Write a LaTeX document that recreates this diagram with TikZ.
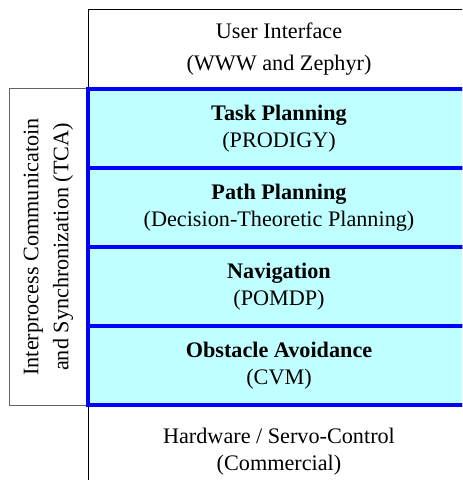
\documentclass[tikz,border=0pt]{standalone}
\usepackage{fontspec}
\setmainfont{Liberation Serif}
\usetikzlibrary{positioning, calc}
\definecolor{layerfill}{RGB}{191,255,255}
\definecolor{tcagray}{RGB}{100,100,100}

\begin{document}
\begin{tikzpicture}[
    x=0.5pt, y=-0.5pt,
    txt/.style={font=\fontsize{11.1}{13.5}\selectfont, align=center},
    plainbox/.style={txt, rectangle, minimum width=191pt, minimum height=39.5pt, inner sep=0pt, outer sep=0pt},
    layerbox/.style={plainbox, draw=blue, line width=2pt, fill=layerfill},
    tcabox/.style={txt, rectangle, draw=tcagray, line width=0.5pt, minimum width=158.5pt, minimum height=39.5pt, inner sep=0pt, outer sep=0pt}
  ]
  \useasboundingbox (0,0) rectangle (462,480);
  \clip (0,0) rectangle (462,480);

  % top layer, open box
  \node[plainbox] (ui) at (279,49.5) {User Interface\\[2.5pt](WWW and Zephyr)};

  % planning stack
  \node[layerbox, below=0pt of ui] (task) {\textbf{Task Planning}\\(PRODIGY)};
  \node[layerbox, below=0pt of task] (path) {\textbf{Path Planning}\\(Decision-Theoretic Planning)};
  \node[layerbox, below=0pt of path] (nav) {\textbf{Navigation}\\(POMDP)};
  \node[layerbox, below=0pt of nav] (obst) {\textbf{Obstacle Avoidance}\\(CVM)};

  % bottom layer
  \node[plainbox, minimum height=47pt, below=0pt of obst] (hw) {Hardware / Servo-Control\\(Commercial)};

  % side box
  \node[tcabox, rotate=90, anchor=south] (tca) at ($(task.north west)!0.5!(obst.south west)$)
    {Interprocess Communicatoin\\[1.5pt]and Synchronization (TCA)};

  \draw[line width=0.5pt] (ui.north east) -- (ui.north west) -- (ui.south west);
  \draw[line width=0.5pt] (hw.north west) -- (hw.south west);
  % redraw blue edges on top
  \foreach \n in {task, path, nav, obst}
    \draw[blue, line width=2pt] (\n.north west) rectangle (\n.south east);
\end{tikzpicture}
\end{document}
